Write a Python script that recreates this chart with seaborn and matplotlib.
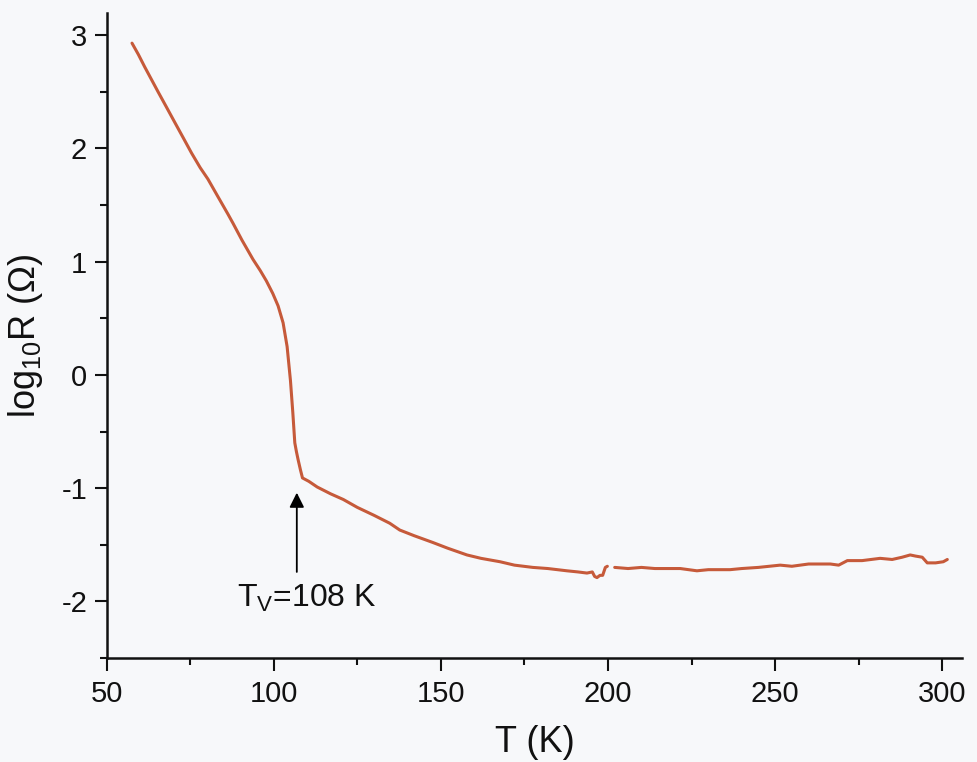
import numpy as np
import pandas as pd
import matplotlib
matplotlib.use("Agg")
import matplotlib.pyplot as plt
import seaborn as sns

# ---- data ----
T_low = [57.6, 59.5, 61.4, 63.4, 65.4, 68, 70.4, 73, 75.4, 78, 80.3, 83, 86.3, 87.8,
         90.5, 93.8, 96, 97.8, 99.7, 101.3, 102.8, 104.0, 105.0, 105.7, 106.3, 106.8,
         107.3, 108.0, 108.6, 110.5, 113, 117, 120.8, 125, 130, 134.7, 137.7, 142,
         147.6, 152, 157.8, 162, 167.7, 172, 177.5, 182, 187.7, 191, 193.7, 195.3,
         196.0, 196.7, 197.6, 198.4, 199.2, 199.8]
logR_low = [2.93, 2.83, 2.72, 2.61, 2.50, 2.36, 2.23, 2.09, 1.96, 1.83, 1.73, 1.59, 1.42,
            1.34, 1.19, 1.02, 0.92, 0.83, 0.72, 0.61, 0.46, 0.25, -0.05, -0.33, -0.60,
            -0.68, -0.75, -0.84, -0.91, -0.94, -0.99, -1.05, -1.10, -1.17, -1.24, -1.31,
            -1.37, -1.42, -1.48, -1.53, -1.59, -1.62, -1.65, -1.68, -1.70, -1.71, -1.73,
            -1.74, -1.75, -1.74, -1.78, -1.79, -1.77, -1.77, -1.70, -1.69]

T_high = [202, 206, 210, 214, 217.7, 221.6, 226.6, 230, 236.5, 240, 245, 251.5, 255,
          260, 266.5, 269, 271.6, 276, 281.4, 285, 288, 290.4, 292, 294, 295.5, 298,
          300.3, 301.5]
logR_high = [-1.70, -1.71, -1.70, -1.71, -1.71, -1.71, -1.73, -1.72, -1.72, -1.71, -1.70,
             -1.68, -1.69, -1.67, -1.67, -1.68, -1.64, -1.64, -1.62, -1.63, -1.61, -1.59,
             -1.60, -1.61, -1.66, -1.66, -1.65, -1.63]

x_ticks = [50, 100, 150, 200, 250, 300]
y_ticks = [-2, -1, 0, 1, 2, 3]
T_V = 108

df = pd.concat([
    pd.DataFrame({"T": T_low, "logR": logR_low, "seg": 0}),
    pd.DataFrame({"T": T_high, "logR": logR_high, "seg": 1}),
])

sns.set_style("ticks")
plt.rcParams["font.family"] = ["Liberation Sans", "DejaVu Sans"]
plt.rcParams["mathtext.fontset"] = "custom"
plt.rcParams["mathtext.rm"] = "Liberation Sans"
plt.rcParams["mathtext.it"] = "Liberation Sans:italic"
plt.rcParams["axes.unicode_minus"] = False
plt.rcParams["text.color"] = "#111111"
plt.rcParams["axes.labelcolor"] = "#111111"
plt.rcParams["xtick.labelsize"] = 21
plt.rcParams["ytick.labelsize"] = 21

bg = "#f7f8fa"
fig = plt.figure(figsize=(9.78, 7.62), dpi=100, facecolor=bg)
ax = fig.add_axes([0.109, 0.1365, 0.875, 0.847])
ax.set_facecolor(bg)

sns.lineplot(data=df, x="T", y="logR", units="seg", estimator=None,
             color="#c65a3a", linewidth=2.2, ax=ax, sort=False)

ax.set_xlim(50, 306)
ax.set_ylim(-2.5, 3.2)
ax.set_xticks(x_ticks)
ax.set_yticks(y_ticks)
ax.set_xticks([75, 125, 175, 225, 275], minor=True)
ax.set_yticks([-2.5, -1.5, -0.5, 0.5, 1.5, 2.5], minor=True)

for side in ["top", "right"]:
    ax.spines[side].set_visible(False)
for side in ["left", "bottom"]:
    ax.spines[side].set_linewidth(1.8)
    ax.spines[side].set_color("#111111")

ax.tick_params(which="major", direction="out", length=9, width=1.5, colors="#111111",
               labelcolor="#111111")
ax.tick_params(which="minor", direction="out", length=5, width=1.5, colors="#111111")
ax.tick_params(axis="x", which="major", pad=7)
ax.tick_params(axis="y", which="major", pad=5)
for lab in ax.get_xticklabels() + ax.get_yticklabels():
    lab.set_fontsize(21)

ax.set_xlabel("T (K)", fontsize=26, labelpad=12)
ax.set_ylabel(r"log$_\mathregular{10}$R (Ω)", fontsize=26, labelpad=12)

ax.annotate("", xy=(T_V - 1.1, -1.04), xytext=(T_V - 1.1, -1.74),
            arrowprops=dict(arrowstyle="-|>", color="black", lw=1.3,
                            mutation_scale=22, shrinkA=0, shrinkB=0))
ax.text(T_V + 2, -2.05, r"T$_\mathregular{V}$=108 K", ha="center", va="baseline",
        fontsize=23)

fig.savefig("out.png", dpi=100, facecolor=bg)
